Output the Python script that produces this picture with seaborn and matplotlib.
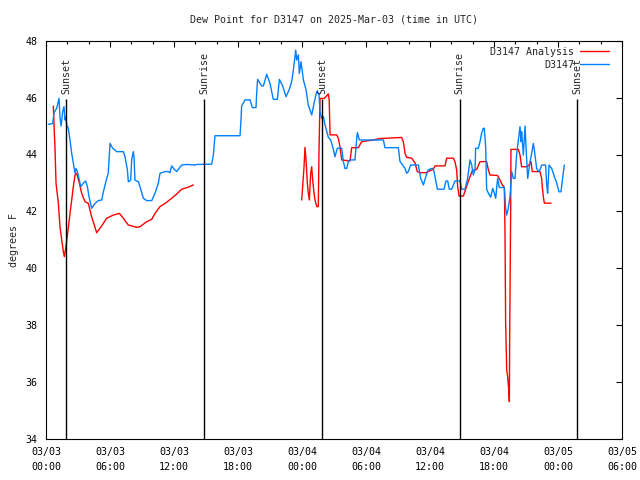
import numpy as np
import pandas as pd
import matplotlib
matplotlib.use("Agg")
import matplotlib.pyplot as plt
import matplotlib.dates as mdates
from matplotlib.lines import Line2D
import seaborn as sns

start = pd.Timestamp("2025-03-03 00:00")

# hours since 03/03 00:00 UTC, dew point in F
obs_hours = [0.22, 0.63, 0.75, 1.0, 1.22, 1.31, 1.41, 1.5, 1.56, 1.69, 1.78, 1.87, 1.94, 2.09, 2.25,
             2.41, 2.56, 2.72, 2.81, 2.94, 3.13, 3.25, 3.5, 3.72, 3.88, 4.03, 4.28, 4.59, 4.91, 5.22,
             5.38, 5.69, 5.84, 6.0, 6.25, 6.63, 7.25, 7.41, 7.63, 7.72, 7.94, 8.03, 8.19, 8.25, 8.34,
             8.66, 8.81, 9.13, 9.44, 9.91, 10.22, 10.53, 10.69, 11.16, 11.47, 11.63, 11.78, 12.0,
             12.25, 12.72, 13.19, 13.97, 14.13, 15.53, 15.69, 15.84, 18.19, 18.28, 18.34, 18.66,
             19.13, 19.34, 19.69, 19.75, 19.84, 20.22, 20.38, 20.69, 21.0, 21.31, 21.69, 21.88,
             22.19, 22.5, 22.81, 23.03, 23.19, 23.41, 23.5, 23.66, 23.75, 23.91, 24.13, 24.38,
             24.59, 24.91, 25.13, 25.38, 25.59, 25.69, 25.84, 26.0, 26.16, 26.47, 26.69, 26.94,
             27.09, 27.31, 27.72, 27.88, 28.03, 28.19, 28.34, 28.5, 28.97, 29.06, 29.19, 29.38,
             29.59, 31.63, 31.78, 33.03, 33.19, 33.44, 33.66, 33.81, 33.97, 34.19, 34.91, 35.13,
             35.38, 35.63, 35.84, 36.16, 36.31, 36.47, 36.69, 37.31, 37.5, 37.66, 37.81, 38.03,
             38.34, 38.81, 38.97, 39.28, 39.53, 39.75, 39.91, 40.06, 40.22, 40.28, 40.53, 40.69,
             40.84, 41.0, 41.09, 41.22, 41.31, 41.47, 41.69, 41.88, 42.03, 42.16, 42.34, 42.5,
             42.97, 43.09, 43.19, 43.34, 43.5, 43.66, 43.81, 43.97, 44.13, 44.28, 44.44, 44.53,
             44.59, 44.75, 44.91, 45.0, 45.16, 45.38, 45.53, 45.69, 45.78, 46.0, 46.16, 46.31,
             46.47, 46.84, 46.94, 47.03, 47.16, 47.41, 47.66, 47.88, 48.09, 48.28, 48.41, 48.59]
obs_dew = [45.06, 45.09, 45.47, 45.62, 45.97, 45.33, 45.0, 45.27, 45.5, 45.68, 45.21, 45.33, 45.04,
           44.92, 44.51, 44.04, 43.69, 43.34, 43.51, 43.4, 43.1, 42.87, 42.99, 43.07, 42.87, 42.52,
           42.11, 42.28, 42.38, 42.4, 42.69, 43.16, 43.34, 44.39, 44.22, 44.1, 44.1, 43.92, 43.46,
           43.04, 43.1, 43.81, 44.1, 43.92, 43.1, 43.04, 42.87, 42.46, 42.38, 42.38, 42.64, 42.99,
           43.34, 43.4, 43.4, 43.36, 43.6, 43.49, 43.4, 43.63, 43.65, 43.63, 43.65, 43.66, 43.98,
           44.66, 44.66, 45.21, 45.7, 45.92, 45.92, 45.65, 45.65, 46.15, 46.64, 46.41, 46.41, 46.82,
           46.5, 45.94, 45.94, 46.64, 46.41, 46.03, 46.29, 46.56, 46.97, 47.67, 47.32, 47.5, 46.85,
           47.26, 46.62, 46.27, 45.74, 45.39, 45.8, 46.21, 46.15, 45.5, 45.27, 45.33, 45.04, 44.6,
           44.51, 44.18, 43.92, 44.22, 44.22, 43.75, 43.51, 43.51, 43.75, 43.81, 43.81, 44.27,
           44.77, 44.51, 44.51, 44.51, 44.24, 44.24, 43.75, 43.63, 43.51, 43.34, 43.4, 43.63, 43.63,
           43.16, 42.93, 43.25, 43.46, 43.51, 43.51, 43.22, 42.78, 42.78, 43.07, 43.07, 42.78,
           42.78, 43.07, 43.07, 42.78, 42.78, 43.16, 43.81, 43.63, 43.28, 43.46, 44.22, 44.22,
           44.45, 44.75, 44.92, 44.92, 44.27, 42.78, 42.64, 42.5, 42.81, 42.64, 42.46, 43.16, 42.84,
           42.84, 42.11, 41.87, 42.11, 42.52, 43.4, 43.16, 43.16, 44.04, 44.51, 44.98, 44.45, 44.8,
           43.98, 45.0, 44.27, 43.16, 43.75, 44.04, 44.39, 44.16, 43.51, 43.4, 43.46, 43.63, 43.63,
           42.93, 42.64, 43.63, 43.51, 43.22, 43.0, 42.69, 42.69, 43.1, 43.63]

ana_hours_1 = [0.69, 0.75, 0.84, 0.94, 1.16, 1.31, 1.47, 1.63, 1.72, 1.87, 2.03, 2.25, 2.41, 2.56,
               2.72, 2.88, 3.13, 3.34, 3.66, 3.97, 4.28, 4.75, 5.22, 5.69, 6.31, 6.88, 7.25, 7.72,
               8.5, 8.81, 9.44, 9.91, 10.22, 10.69, 11.16, 11.78, 12.25, 12.72, 13.34, 13.81]
ana_dew_1 = [45.7, 45.04, 44.27, 42.99, 42.28, 41.46, 41.0, 40.58, 40.41, 40.76, 41.23, 41.93, 42.4,
             42.87, 43.28, 43.34, 42.99, 42.64, 42.34, 42.28, 41.81, 41.25, 41.49, 41.76, 41.87,
             41.93, 41.76, 41.52, 41.44, 41.46, 41.64, 41.72, 41.93, 42.17, 42.28, 42.46, 42.61,
             42.78, 42.85, 42.93]

ana_hours_2 = [23.97, 24.06, 24.19, 24.28, 24.38, 24.5, 24.59, 24.69, 24.81, 24.91, 25.0, 25.13,
               25.22, 25.38, 25.53, 25.59, 25.69, 26.06, 26.31, 26.47, 26.55, 26.63, 27.25, 27.41,
               27.56, 27.72, 28.5, 28.66, 29.28, 29.59, 30.66, 31.28, 33.34, 33.5, 33.66, 33.81,
               34.28, 34.59, 34.81, 35.06, 35.63, 36.0, 36.31, 36.47, 37.41, 37.56, 38.19, 38.34,
               38.5, 38.59, 38.72, 39.13, 39.44, 39.75, 39.97, 40.38, 40.69, 41.31, 41.47, 41.63,
               42.34, 42.56, 42.78, 42.97, 43.03, 43.09, 43.19, 43.28, 43.38, 43.44, 43.47, 43.56,
               43.59, 44.28, 44.44, 44.59, 45.06, 45.28, 45.47, 45.59, 46.31, 46.47, 46.53, 46.63,
               46.72, 47.34]
ana_dew_2 = [42.4, 42.87, 43.57, 44.25, 43.81, 42.99, 42.64, 42.4, 43.34, 43.57, 43.1, 42.64, 42.4,
             42.17, 42.17, 44.04, 45.97, 45.97, 46.06, 46.13, 45.92, 44.69, 44.69, 44.57, 44.27,
             43.81, 43.77, 44.24, 44.24, 44.45, 44.51, 44.56, 44.6, 44.45, 44.04, 43.9, 43.87,
             43.71, 43.4, 43.36, 43.36, 43.43, 43.48, 43.6, 43.6, 43.87, 43.87, 43.75, 43.46,
             42.89, 42.54, 42.54, 42.89, 43.22, 43.43, 43.48, 43.75, 43.75, 43.46, 43.28, 43.26,
             43.1, 42.93, 42.85, 41.29, 38.12, 36.43, 36.19, 35.75, 35.31, 37.57, 41.93, 44.18,
             44.18, 43.98, 43.57, 43.57, 43.63, 43.75, 43.4, 43.4, 43.16, 42.85, 42.5, 42.29, 42.29]

sun_hours = [1.87, 14.84, 25.9, 38.8, 49.8]
sun_labels = ["Sunset", "Sunrise", "Sunset", "Sunrise", "Sunset"]

def to_time(hours):
    return start + pd.to_timedelta(hours, unit="h")

obs = pd.DataFrame({"time": to_time(obs_hours), "dew": obs_dew})
ana = pd.concat([
    pd.DataFrame({"time": to_time(ana_hours_1), "dew": ana_dew_1, "seg": 1}),
    pd.DataFrame({"time": to_time(ana_hours_2), "dew": ana_dew_2, "seg": 2}),
])

sns.set_style("white")
plt.rcParams["font.family"] = ["DejaVu Sans Mono"]
plt.rcParams["font.size"] = 7.2

red = "#ff0000"
blue = "#0080ff"

fig = plt.figure(figsize=(6.4, 4.8), dpi=100)
ax = fig.add_axes([46 / 640, 1 - 439 / 480, 576 / 640, (439 - 40.7) / 480])

sns.lineplot(data=ana, x="time", y="dew", units="seg", estimator=None, color=red, lw=1, ax=ax)
sns.lineplot(data=obs, x="time", y="dew", estimator=None, color=blue, lw=1, ax=ax)

for h, lab in zip(sun_hours, sun_labels):
    t = to_time(h)
    ax.vlines(t, 34, 45.95, color="black", lw=1)
    ax.text(t, 46.12, lab, rotation=90, ha="center", va="bottom", fontsize=7.2)

ax.set_xlim(start, start + pd.Timedelta(hours=54))
ax.set_ylim(34, 48)
ax.set_yticks(np.arange(34, 49, 2))
ax.xaxis.set_major_locator(mdates.HourLocator(byhour=range(0, 24, 6)))
ax.xaxis.set_minor_locator(mdates.HourLocator(byhour=range(0, 24, 2)))
ax.xaxis.set_major_formatter(mdates.DateFormatter("%m/%d\n%H:%M"))
ax.tick_params(which="both", direction="in", top=True, right=True, width=0.8, colors="black")
ax.tick_params(which="major", length=4.5, pad=6)
ax.tick_params(which="minor", length=2.5)
for lab in ax.get_xticklabels():
    lab.set_linespacing(1.55)
for s in ax.spines.values():
    s.set_color("black")
    s.set_linewidth(0.8)

ax.set_xlabel("")
ax.set_ylabel("degrees F", labelpad=5)
ax.set_title("Dew Point for D3147 on 2025-Mar-03 (time in UTC)", pad=13, fontsize=7.2)

handles = [Line2D([], [], color=red, lw=1), Line2D([], [], color=blue, lw=1)]
ax.legend(handles, ["D3147 Analysis", "D3147"], loc="upper right", frameon=False,
          markerfirst=False, handlelength=2.9, handletextpad=0.6, labelspacing=0.3,
          borderaxespad=0.2, bbox_to_anchor=(1 - 7 / 576, 1.0))

fig.savefig("out.png", dpi=100)
